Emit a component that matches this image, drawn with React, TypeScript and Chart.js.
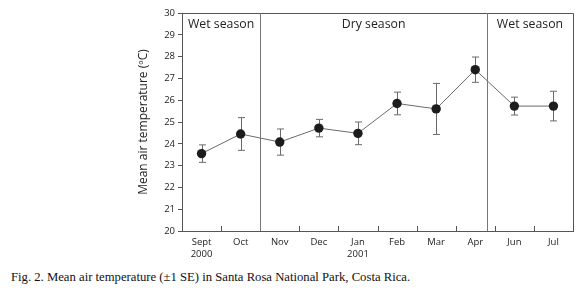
import React, { useEffect, useRef } from "react";
import { Chart, registerables } from "chart.js";
Chart.register(...registerables);

const months: (string | string[])[] = [["Sept", "2000"], "Oct", "Nov", "Dec", ["Jan", "2001"], "Feb", "Mar", "Apr", "Jun", "Jul"];
const meanTemp = [23.55, 24.45, 24.08, 24.72, 24.48, 25.85, 25.6, 27.4, 25.73, 25.73];
const seTemp = [0.4, 0.75, 0.6, 0.4, 0.52, 0.52, 1.17, 0.58, 0.41, 0.68];
const yMin = 20;
const yMax = 30;
const yStep = 1;
const seasonNames = ["Wet season", "Dry season", "Wet season"];
const seasonBreaks = [1.5, 7.3]; // category-index positions of season boundaries
const caption = "Fig. 2. Mean air temperature (±1 SE) in Santa Rosa National Park, Costa Rica.";
const yTitle = "Mean air temperature (ºC)";

const SANS = "'Open Sans', 'Noto Sans', sans-serif";

const W = 580;
const CH = 268;

const decor = {
  id: "decor",
  beforeDatasetsDraw(chart: any) {
    const ctx = chart.ctx;
    const y = chart.scales.y;
    const x = chart.scales.x;
    ctx.save();
    ctx.strokeStyle = "#6a6a6a";
    ctx.lineWidth = 1;
    meanTemp.forEach((m, i) => {
      const px = Math.round(x.getPixelForValue(i)) + 0.5;
      const top = y.getPixelForValue(m + seTemp[i]);
      const bot = y.getPixelForValue(m - seTemp[i]);
      ctx.beginPath();
      ctx.moveTo(px, top);
      ctx.lineTo(px, bot);
      ctx.moveTo(px - 3.5, top);
      ctx.lineTo(px + 3.5, top);
      ctx.moveTo(px - 3.5, bot);
      ctx.lineTo(px + 3.5, bot);
      ctx.stroke();
    });
    ctx.restore();
  },
  afterDraw(chart: any) {
    const ctx = chart.ctx;
    const { left, right, top, bottom } = chart.chartArea;
    const x = chart.scales.x;
    ctx.save();
    ctx.strokeStyle = "#555";
    ctx.lineWidth = 1;
    // frame top & right
    ctx.beginPath();
    ctx.moveTo(left, Math.round(top) + 0.5);
    ctx.lineTo(Math.round(right) + 0.5, Math.round(top) + 0.5);
    ctx.lineTo(Math.round(right) + 0.5, bottom);
    ctx.stroke();
    // inward ticks at category boundaries
    for (let i = 0; i < months.length - 1; i++) {
      const px = Math.round((x.getPixelForValue(i) + x.getPixelForValue(i + 1)) / 2) + 0.5;
      ctx.beginPath();
      ctx.moveTo(px, bottom);
      ctx.lineTo(px, bottom - 5);
      ctx.stroke();
    }
    // season boundaries
    const spacing = x.getPixelForValue(1) - x.getPixelForValue(0);
    const bx = seasonBreaks.map((b) => x.getPixelForValue(0) + b * spacing);
    ctx.strokeStyle = "#777";
    bx.forEach((p) => {
      const px = Math.round(p) + 0.5;
      ctx.beginPath();
      ctx.moveTo(px, top);
      ctx.lineTo(px, bottom);
      ctx.stroke();
    });
    // season labels
    const edges = [left, ...bx, right];
    ctx.fillStyle = "#222";
    ctx.font = `12.3px ${SANS}`;
    ctx.textAlign = "center";
    ctx.textBaseline = "middle";
    seasonNames.forEach((s, i) => {
      ctx.fillText(s, (edges[i] + edges[i + 1]) / 2, top + 11);
    });
    ctx.restore();
  },
};

export default function App() {
  const ref = useRef<HTMLCanvasElement>(null);
  useEffect(() => {
    if (!ref.current) return;
    const chart = new Chart(ref.current, {
      type: "line",
      data: {
        labels: months as any,
        datasets: [
          {
            data: meanTemp,
            borderColor: "#6a6a6a",
            borderWidth: 1,
            pointRadius: 4.7,
            pointBackgroundColor: "#1c1c1c",
            pointBorderColor: "#1c1c1c",
            pointBorderWidth: 0,
            tension: 0,
          },
        ],
      },
      options: {
        responsive: false,
        animation: false,
        devicePixelRatio: 1,
        layout: { padding: { left: 0, top: 13, right: 7, bottom: 0 } },
        plugins: { legend: { display: false }, tooltip: { enabled: false } },
        scales: {
          x: {
            type: "category",
            offset: true,
            grid: { display: false, offset: true, drawTicks: false, tickLength: 0 },
            border: { display: true, color: "#555", width: 1 },
            ticks: { color: "#222", font: { family: SANS, size: 9.5, lineHeight: 1.25 }, padding: 5, maxRotation: 0, autoSkip: false },
            afterFit(s: any) {
              s.height = CH - 231;
            },
          },
          y: {
            min: yMin,
            max: yMax,
            ticks: { stepSize: yStep, color: "#222", font: { family: SANS, size: 9.5 }, padding: 3 },
            grid: { display: true, drawOnChartArea: false, drawTicks: true, tickLength: 4, color: "#555" },
            border: { display: true, color: "#555", width: 1 },
            title: { display: true, text: yTitle, color: "#222", font: { family: SANS, size: 12 }, padding: { top: 136, bottom: 0 } },
            afterFit(s: any) {
              s.width = 182;
            },
          },
        },
      },
      plugins: [decor],
    });
    return () => chart.destroy();
  }, []);
  return (
    <div style={{ position: "fixed", left: 0, top: 0, width: W, height: 297, background: "#fff" }}>
      <canvas ref={ref} width={W} height={CH} style={{ display: "block" }} />
      <div
        style={{
          position: "absolute",
          left: 11,
          top: 270,
          fontFamily: "'Liberation Serif', 'Times New Roman', serif",
          fontSize: 12.7,
          color: "#111",
          whiteSpace: "nowrap",
        }}
      >
        {caption}
      </div>
    </div>
  );
}
